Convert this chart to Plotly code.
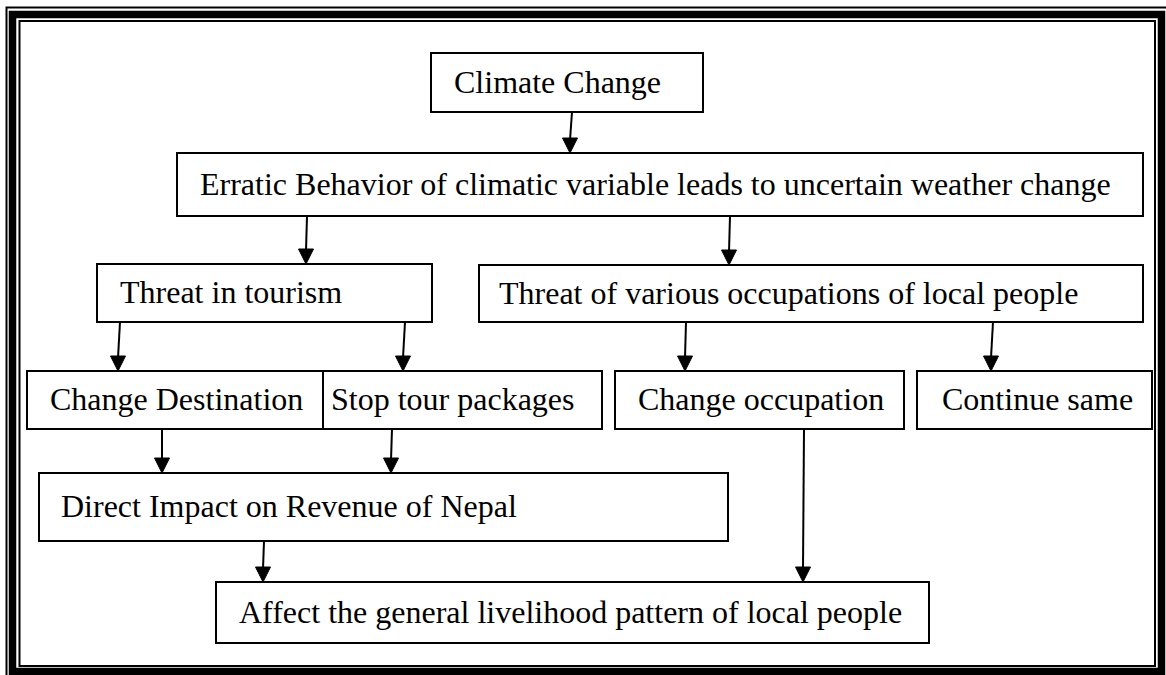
import plotly.graph_objects as go

# ---- data: node labels and the links between them ----
labels = [
    "Climate Change",
    "Erratic Behavior of climatic variable leads to uncertain weather change",
    "Threat in tourism",
    "Threat of various occupations of local people",
    "Change Destination",
    "Stop tour packages",
    "Change occupation",
    "Continue same",
    "Direct Impact on Revenue of Nepal",
    "Affect the general livelihood pattern of local people",
]
edges_from = [0, 1, 1, 2, 2, 3, 3, 4, 5, 8, 6]
edges_to   = [1, 2, 3, 4, 5, 6, 7, 8, 8, 9, 9]

# ---- layout geometry (pixel space of the page) ----
box_x0 = [431, 177, 97, 479, 27, 323, 615, 917, 39, 216]
box_y0 = [53, 153, 264, 265, 371, 371, 371, 371, 473, 582]
box_x1 = [703, 1143, 432, 1143, 323, 602, 904, 1152, 728, 929]
box_y1 = [112, 216, 322, 322, 429, 429, 429, 429, 541, 643]
text_x = [452, 198, 118, 497, 48, 329, 636, 940, 59, 237]
# x position where each arrow leaves its source / enters its target
arrow_x0 = [572, 307, 730, 120, 405, 686, 993, 162, 392, 264, 804]
arrow_x1 = [570, 306, 729, 118, 403, 685, 991, 162, 391, 263, 803]

W, H = 1166, 675
FONT = "Liberation Serif, Times New Roman, serif"

fig = go.Figure()
fig.add_trace(go.Scatter(x=[0, W], y=[0, H], mode="markers",
                         marker=dict(opacity=0), hoverinfo="skip", showlegend=False))

shapes = []
annotations = []

# double frame
shapes.append(dict(type="rect", x0=6.5, y0=7.5, x1=W + 8, y1=H + 8,
                   line=dict(color="black", width=2)))
shapes.append(dict(type="rect", x0=12.5, y0=14.5, x1=1161.5, y1=671.5,
                   line=dict(color="black", width=7.5)))
shapes.append(dict(type="rect", x0=19.5, y0=21, x1=1155, y1=666,
                   line=dict(color="black", width=2)))

# boxes and labels
for i, lab in enumerate(labels):
    shapes.append(dict(type="rect", x0=box_x0[i], y0=box_y0[i], x1=box_x1[i], y1=box_y1[i],
                       line=dict(color="black", width=2), fillcolor="rgba(0,0,0,0)"))
    annotations.append(dict(x=text_x[i], y=(box_y0[i] + box_y1[i]) / 2 - 1,
                            xref="x", yref="y", text=lab, showarrow=False,
                            xanchor="left", yanchor="middle",
                            font=dict(family=FONT, size=32, color="black")))

# arrows
HL, HW = 15, 7.5
for k, (s, t) in enumerate(zip(edges_from, edges_to)):
    xa, ya = arrow_x0[k], box_y1[s]
    xb, yb = arrow_x1[k], box_y0[t]
    shapes.append(dict(type="line", x0=xa, y0=ya, x1=xb, y1=yb - HL + 2,
                       line=dict(color="black", width=2)))
    shapes.append(dict(type="path",
                       path=f"M {xb} {yb} L {xb - HW} {yb - HL} L {xb + HW} {yb - HL} Z",
                       fillcolor="black", line=dict(color="black", width=1)))

fig.update_layout(
    width=W, height=H,
    margin=dict(l=0, r=0, t=0, b=0, pad=0),
    paper_bgcolor="white", plot_bgcolor="white",
    xaxis=dict(range=[0, W], visible=False, fixedrange=True),
    yaxis=dict(range=[H, 0], visible=False, fixedrange=True),
    shapes=shapes, annotations=annotations, showlegend=False,
)

fig.write_html("out.html", config={"displayModeBar": False},
               post_script="document.body.style.margin='0';document.body.style.padding='0';"
                           "document.body.style.overflow='hidden';")
